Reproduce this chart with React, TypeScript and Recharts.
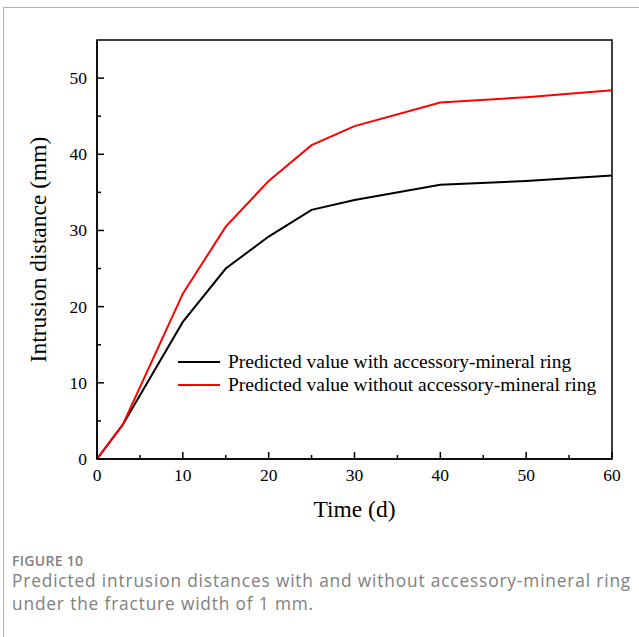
import { LineChart, Line, XAxis, YAxis, ReferenceArea, Legend } from 'recharts'

const days = [0, 3, 10, 15, 20, 25, 30, 40, 50, 60]
const withRing = [0, 4.5, 18, 25, 29.2, 32.7, 34, 36, 36.5, 37.2]
const withoutRing = [0, 4.5, 21.7, 30.5, 36.5, 41.2, 43.7, 46.8, 47.5, 48.4]
const xTicks = [0, 5, 10, 15, 20, 25, 30, 35, 40, 45, 50, 55, 60]
const yTicks = [0, 5, 10, 15, 20, 25, 30, 35, 40, 45, 50]
const seriesNames = ['Predicted value with accessory-mineral ring', 'Predicted value without accessory-mineral ring']

const data = days.map((d, i) => ({ day: d, withRing: withRing[i], withoutRing: withoutRing[i] }))

const serif = '"Liberation Serif", "Times New Roman", serif'

function XTick({ x, y, payload }: any) {
  const major = payload.value % 10 === 0
  return (
    <g>
      <line x1={x} y1={y} x2={x} y2={y - (major ? 7 : 4)} stroke="#000" strokeWidth={1.5} />
      {major && (
        <text x={x} y={y + 22} textAnchor="middle" fontSize={17.5} fontFamily={serif} fill="#000">
          {payload.value}
        </text>
      )}
    </g>
  )
}

function YTick({ x, y, payload }: any) {
  const major = payload.value % 10 === 0
  return (
    <g>
      <line x1={x} y1={y} x2={x + (major ? 7 : 4)} y2={y} stroke="#000" strokeWidth={1.5} />
      {major && (
        <text x={x - 10} y={y + 6} textAnchor="end" fontSize={17.5} fontFamily={serif} fill="#000">
          {payload.value}
        </text>
      )}
    </g>
  )
}

function LegendBox() {
  const colors = ['#000', '#ff0000']
  return (
    <div style={{ fontFamily: serif, fontSize: 19.5, color: '#000' }}>
      {seriesNames.map((n, i) => (
        <div key={n} style={{ display: 'flex', alignItems: 'center', height: 23.5, whiteSpace: 'nowrap' }}>
          <span style={{ display: 'inline-block', width: 42, height: 2, background: colors[i], marginRight: 8 }} />
          {n}
        </div>
      ))}
    </div>
  )
}

export default function App() {
  return (
    <div style={{ position: 'absolute', left: 0, top: 0, width: 639, height: 637, background: '#fff', overflow: 'hidden' }}>
      <div style={{ position: 'absolute', left: 3, top: 7, width: 700, height: 700, borderLeft: '1px solid #b4b4b4', borderTop: '1px solid #b4b4b4' }} />
      <div style={{ position: 'absolute', left: 0, top: 0 }}>
        <LineChart width={639} height={540} data={data} margin={{ top: 40, right: 27, left: 37, bottom: 11 }}>
          <XAxis
            dataKey="day"
            type="number"
            domain={[0, 60]}
            ticks={xTicks}
            interval={0}
            tickSize={0}
            tickMargin={0}
            tickLine={false}
            tick={XTick}
            axisLine={{ stroke: '#000', strokeWidth: 1.5 }}
            height={70}
            label={{ value: 'Time (d)', position: 'insideBottom', offset: 12, fontSize: 23.5, fontFamily: serif, fill: '#000' }}
          />
          <YAxis
            type="number"
            domain={[0, 55]}
            ticks={yTicks}
            interval={0}
            tickSize={0}
            tickMargin={0}
            tickLine={false}
            tick={YTick}
            axisLine={{ stroke: '#000', strokeWidth: 1.5 }}
            width={60}
            label={{ value: 'Intrusion distance (mm)', angle: -90, position: 'insideLeft', offset: 1, fontSize: 23.5, fontFamily: serif, fill: '#000', style: { textAnchor: 'middle' } }}
          />
          <ReferenceArea x1={0} x2={60} y1={0} y2={55} fill="none" stroke="#000" strokeWidth={1.5} ifOverflow="visible" />
          <Line dataKey="withRing" name={seriesNames[0]} stroke="#000" strokeWidth={2} dot={false} isAnimationActive={false} />
          <Line dataKey="withoutRing" name={seriesNames[1]} stroke="#ff0000" strokeWidth={2} dot={false} isAnimationActive={false} />
          <Legend
            content={LegendBox}
            layout="horizontal"
            verticalAlign="middle"
            wrapperStyle={{ position: 'absolute', left: 178, top: 350, width: 'auto', bottom: 'auto' }}
          />
        </LineChart>
      </div>
      <div style={{ position: 'absolute', left: 12, top: 551, fontFamily: '"Open Sans", sans-serif', color: '#808080' }}>
        <div style={{ fontSize: 14, fontWeight: 600, lineHeight: '20px', letterSpacing: 0.3 }}>FIGURE 10</div>
        <div style={{ fontSize: 17.3, lineHeight: '23px', letterSpacing: 0.85, marginTop: -2 }}>
          Predicted intrusion distances with and without accessory-mineral ring
          <br />
          under the fracture width of 1 mm.
        </div>
      </div>
    </div>
  )
}
